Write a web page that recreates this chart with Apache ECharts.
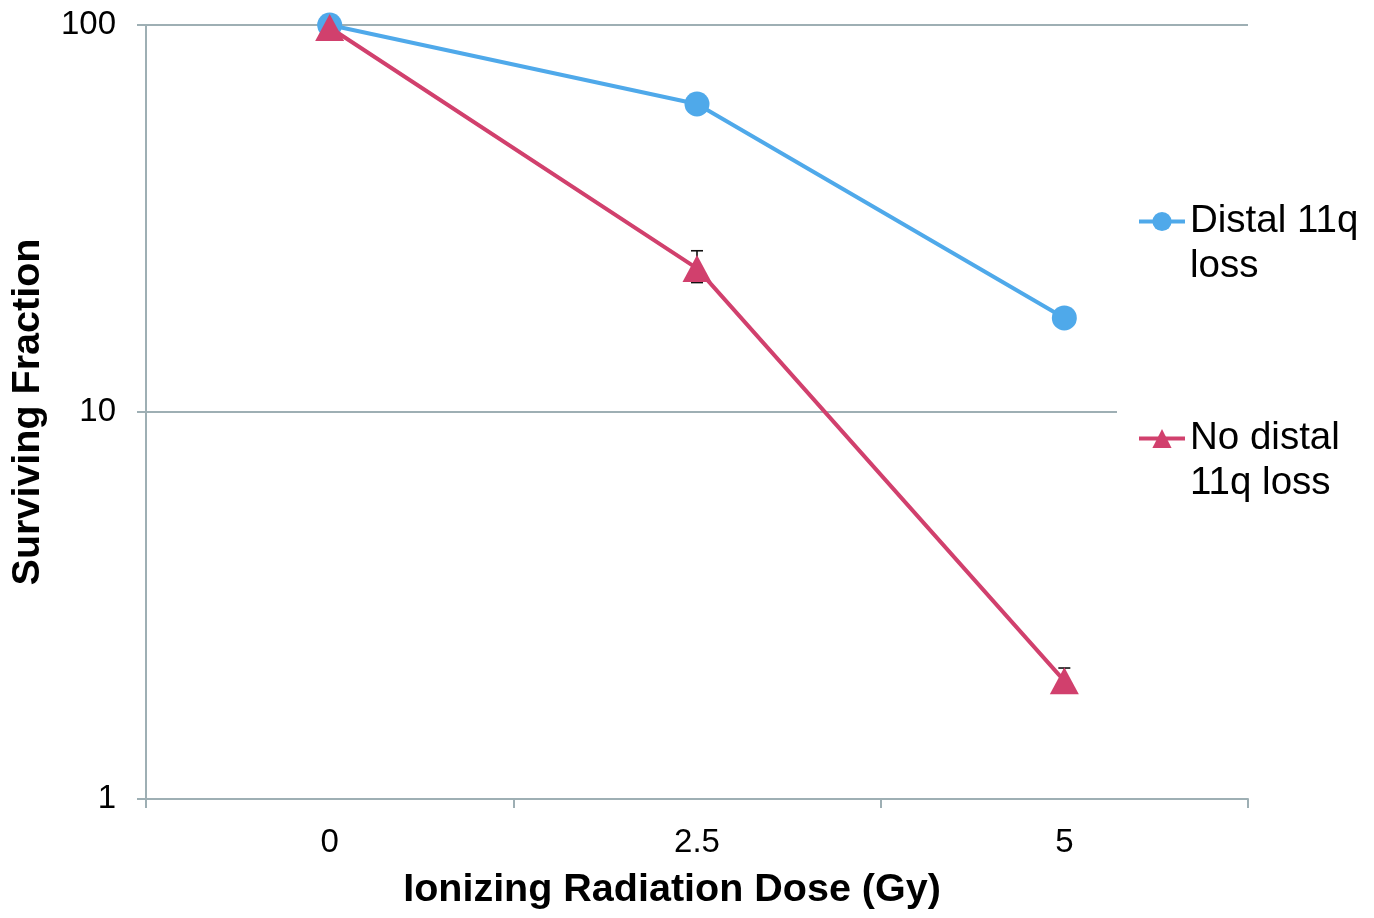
<!DOCTYPE html>
<html>
<head>
<meta charset="utf-8">
<script src="https://cdn.jsdelivr.net/npm/echarts@6/dist/echarts.min.js"></script>
<style>
  html, body { margin: 0; padding: 0; background: #fff; }
  #chart { width: 1374px; height: 918px; }
</style>
</head>
<body>
<div id="chart"></div>
<script>
var doses = ['0', '2.5', '5'];
var distalLoss = [100, 62.5, 17.5];
var noDistalLoss = [98.5, 23.5, 2.02];
// error bar ranges for "No distal 11q loss" [low, high]
var noDistalErrLow = [null, 21.6, 1.9];
var noDistalErrHigh = [null, 26.1, 2.18];
var yTicks = [1, 10, 100];

var blue = '#4fa9ea';
var pink = '#d1406d';
var axisGrey = '#9eafb4';
var font = 'Liberation Sans, Arial, sans-serif';

var errData = [];
for (var i = 0; i < doses.length; i++) {
  if (noDistalErrLow[i] != null) {
    errData.push([i, noDistalErrLow[i], noDistalErrHigh[i]]);
  }
}

function renderErr(params, api) {
  var x = api.value(0);
  var lo = api.coord([x, api.value(1)]);
  var hi = api.coord([x, api.value(2)]);
  var half = 6;
  var style = { stroke: '#111', lineWidth: 1.6 };
  return {
    type: 'group',
    children: [
      { type: 'line', shape: { x1: lo[0], y1: lo[1], x2: hi[0], y2: hi[1] }, style: style },
      { type: 'line', shape: { x1: lo[0] - half, y1: lo[1], x2: lo[0] + half, y2: lo[1] }, style: style },
      { type: 'line', shape: { x1: hi[0] - half, y1: hi[1], x2: hi[0] + half, y2: hi[1] }, style: style }
    ]
  };
}

var chart = echarts.init(document.getElementById('chart'));

var option = {
  backgroundColor: '#fff',
  animation: false,
  textStyle: { fontFamily: font },
  grid: { left: 145, right: 126, top: 25, bottom: 119 },
  legend: {
    orient: 'vertical',
    left: 1117,
    top: 144,
    padding: [8, 10, 8, 20],
    backgroundColor: '#fff',
    itemWidth: 46,
    itemHeight: 24,
    itemGap: 78,
    lineStyle: { width: 4 },
    data: ['Distal 11q loss', 'No distal 11q loss'],
    // blank first line so the first text line sits level with the icon
    formatter: function (name) {
      return name === 'Distal 11q loss' ? ' \nDistal 11q\nloss' : ' \nNo distal\n11q loss';
    },
    textStyle: {
      fontFamily: font,
      fontSize: 38.5,
      color: '#000',
      lineHeight: 45,
      padding: [4, 0, 0, 0]
    }
  },
  xAxis: {
    type: 'category',
    data: doses,
    boundaryGap: true,
    name: 'Ionizing Radiation Dose (Gy)',
    nameLocation: 'middle',
    nameGap: 71,
    nameTextStyle: {
      fontFamily: font,
      fontSize: 39.5,
      fontWeight: 'bold',
      color: '#000',
      padding: [0, 50, 0, 0]
    },
    axisLine: { lineStyle: { color: axisGrey, width: 2 } },
    axisTick: { show: true, inside: false, length: 9, lineStyle: { color: axisGrey, width: 2 } },
    axisLabel: { fontFamily: font, fontSize: 33, color: '#000', margin: 27 },
    splitLine: { show: false }
  },
  yAxis: {
    type: 'log',
    logBase: 10,
    min: yTicks[0],
    max: yTicks[yTicks.length - 1],
    name: 'Surviving Fraction',
    nameLocation: 'middle',
    nameGap: 98,
    nameTextStyle: {
      fontFamily: font,
      fontSize: 39.5,
      fontWeight: 'bold',
      color: '#000'
    },
    axisLine: { show: true, lineStyle: { color: axisGrey, width: 2 } },
    axisTick: { show: true, inside: false, length: 9, lineStyle: { color: axisGrey, width: 2 } },
    axisLabel: { fontFamily: font, fontSize: 33, color: '#000', margin: 30 },
    splitLine: { show: true, lineStyle: { color: axisGrey, width: 2 } },
    minorTick: { show: false }
  },
  series: [
    {
      name: 'No distal 11q loss error',
      type: 'custom',
      renderItem: renderErr,
      data: errData,
      z: 1,
      silent: true
    },
    {
      name: 'Distal 11q loss',
      type: 'line',
      data: distalLoss,
      color: blue,
      symbol: 'circle',
      symbolSize: 25,
      lineStyle: { width: 4, color: blue },
      itemStyle: { color: blue },
      z: 2
    },
    {
      name: 'No distal 11q loss',
      type: 'line',
      data: noDistalLoss,
      color: pink,
      symbol: 'triangle',
      symbolSize: [29, 27],
      lineStyle: { width: 4, color: pink },
      itemStyle: { color: pink },
      z: 3
    }
  ]
};

chart.setOption(option);
</script>
</body>
</html>
